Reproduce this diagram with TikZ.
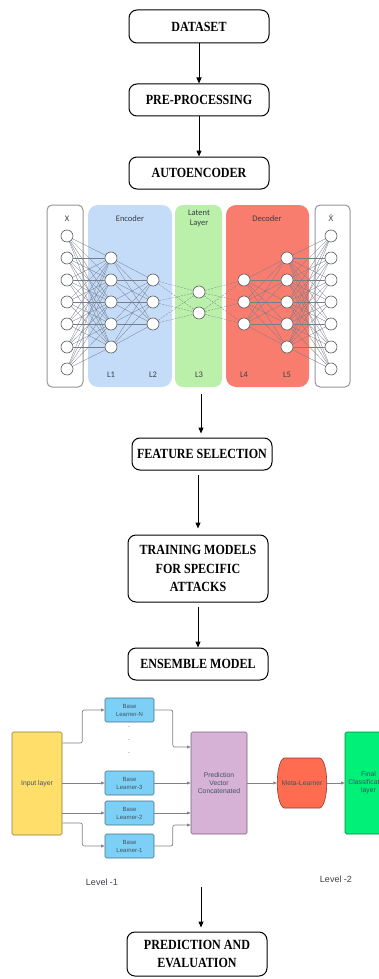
\documentclass[tikz,border=0pt]{standalone}
\usepackage{fontspec}
\setmainfont{Liberation Serif}
\newfontfamily\flowfont[FakeStretch=0.86]{Liberation Serif}
\newfontfamily\netfont{Carlito}
\newfontfamily\accfont{DejaVu Sans}
\newfontfamily\ensfont{Liberation Sans}
\usetikzlibrary{arrows.meta,calc}

\definecolor{encfill}{RGB}{196,220,248}
\definecolor{latfill}{RGB}{186,240,170}
\definecolor{decfill}{RGB}{248,125,110}
\definecolor{panelline}{RGB}{150,150,150}
\definecolor{neuronline}{RGB}{90,90,90}
\definecolor{linkcol}{RGB}{120,125,140}
\definecolor{basefill}{RGB}{125,208,245}
\definecolor{inpfill}{RGB}{255,222,105}
\definecolor{predfill}{RGB}{214,178,214}
\definecolor{metafill}{RGB}{255,108,80}
\definecolor{finfill}{RGB}{0,240,120}
\definecolor{enstext}{RGB}{70,80,100}
\definecolor{enslink}{RGB}{130,130,130}
\definecolor{labtext}{RGB}{60,60,70}

\tikzset{
  flowbox/.style={draw=black, line width=1pt, rounded corners=8pt, minimum width=140pt,
    minimum height=32pt, align=center, inner sep=2pt,
    font=\flowfont\bfseries\fontsize{14}{18.5}\selectfont},
  flowarrow/.style={-{Triangle[length=6pt,width=5pt]}, line width=1pt},
  neuron/.style={circle, draw=neuronline, fill=white, line width=0.6pt, minimum size=12pt, inner sep=0pt},
  link/.style={draw=linkcol, line width=0.3pt},
  dlink/.style={link, dash pattern=on 2pt off 1.2pt},
  nettext/.style={text=labtext, font=\netfont\fontsize{8.5}{10.5}\selectfont, align=center, inner sep=0pt},
  ensbox/.style={draw=#1!55!black, line width=0.6pt, rounded corners=1.5pt, align=center,
    text=enstext, font=\ensfont\fontsize{6.8}{8}\selectfont, inner sep=1pt},
  baselearner/.style={ensbox=basefill, fill=basefill, minimum width=49pt, minimum height=24pt,
    font=\ensfont\fontsize{6}{8}\selectfont},
  enslinkstyle/.style={draw=enslink, line width=0.7pt, rounded corners=2pt,
    -{Triangle[length=3.5pt,width=2.8pt]}},
  leveltext/.style={text=labtext, font=\ensfont\fontsize{9}{10}\selectfont, inner sep=0pt}
}

\begin{document}
\begin{tikzpicture}[x=1pt,y=-1pt]
\useasboundingbox (0,0) rectangle (379,979);
\clip (0,0) rectangle (379,979);

% ---------- upper flow ----------
\node[flowbox, minimum height=33pt] (ds) at (199,26.5) {DATASET};
\node[flowbox] (pre) at (199,100) {PRE-PROCESSING};
\node[flowbox] (ae) at (199,173) {AUTOENCODER};
\draw[flowarrow] (ds) -- (pre);
\draw[flowarrow] (pre) -- (ae);

% ---------- autoencoder network ----------
\draw[draw=panelline, line width=1pt, fill=white, rounded corners=5pt] (47,205) rectangle (83,387);
\fill[encfill, rounded corners=10pt] (88,205) rectangle (172,387);
\fill[latfill, rounded corners=8pt] (175,205) rectangle (222,387);
\fill[decfill, rounded corners=10pt] (226,205) rectangle (309,387);
\draw[draw=panelline, line width=1pt, fill=white, rounded corners=5pt] (315,205) rectangle (350,387);

\node[nettext] (lx) at (67,219) {X};
\node[nettext] (lenc) at (130,219) {Encoder};
\node[nettext] (llat) at (199,218.5) {Latent\\Layer};
\node[nettext] (ldec) at (267,219) {Decoder};
\node[nettext, font=\accfont\fontsize{7.5}{9}\selectfont] (lxh) at (331,218) {X\symbol{"0302}};

\node[nettext] (l1) at (111,375) {L1};
\node[nettext] (l2) at (153,375) {L2};
\node[nettext] (l3) at (199,375) {L3};
\node[nettext] (l4) at (244,375) {L4};
\node[nettext] (l5) at (287,375) {L5};

% neurons
\foreach \k/\y in {1/236,2/258,3/280,4/302,5/324,6/347,7/369} {
  \node[neuron] (x\k) at (67,\y) {};
  \node[neuron] (h\k) at (331,\y) {};
}
\foreach \k/\y in {1/258,2/280,3/302,4/324,5/347} {
  \node[neuron] (a\k) at (111,\y) {};
  \node[neuron] (e\k) at (287,\y) {};
}
\foreach \k/\y in {1/280,2/302,3/324} {
  \node[neuron] (b\k) at (153,\y) {};
  \node[neuron] (d\k) at (244,\y) {};
}
\node[neuron] (c1) at (199,292) {};
\node[neuron] (c2) at (199,313) {};

% full connections between layers
\foreach \i in {1,...,7} \foreach \j in {1,...,5} {
  \draw[link] (x\i) -- (a\j);
  \draw[link] (e\j) -- (h\i);
}
\foreach \i in {1,...,5} \foreach \j in {1,...,3} {
  \draw[link] (a\i) -- (b\j);
  \draw[link] (d\j) -- (e\i);
}
\foreach \i in {1,...,3} \foreach \j in {1,2} {
  \draw[dlink] (b\i) -- (c\j);
  \draw[dlink] (c\j) -- (d\i);
}

% ---------- middle flow ----------
\coordinate (aeout) at (201,394);
\node[flowbox] (fs) at (202,454) {FEATURE SELECTION};
\node[flowbox, minimum height=67pt] (tr) at (198,568.5) {TRAINING MODELS\\FOR SPECIFIC\\ATTACKS};
\node[flowbox] (em) at (198,664) {ENSEMBLE MODEL};
\draw[flowarrow, shorten >=4pt] (aeout) -- (aeout |- fs.north);
\draw[flowarrow, shorten <=4pt, shorten >=6pt] (tr.north |- fs.south) -- (tr.north);
\draw[flowarrow, shorten <=4pt] (tr.south) -- (em.north);

% ---------- ensemble (stacking) diagram ----------
\node[ensbox=inpfill, fill=inpfill, minimum width=50pt, minimum height=103pt] (inp) at (37,783.5) {Input layer};
\node[baselearner] (bln) at (129.5,710) {Base\\Learner-N};
\node[baselearner] (bl3) at (129.5,783) {Base\\Learner-3};
\node[baselearner] (bl2) at (129.5,813) {Base\\Learner-2};
\node[baselearner] (bl1) at (129.5,846) {Base\\Learner-1};
\foreach \k/\y in {1/727,2/740,3/753}
  \node[text=enstext, font=\ensfont\fontsize{7}{8}\selectfont, inner sep=0pt] (dot\k) at (129,\y) {.};
\node[ensbox=predfill, fill=predfill, minimum width=56pt, minimum height=102pt] (pred) at (219,783)
  {Prediction\\Vector\\Concatenated};
\node[minimum width=50pt, minimum height=50pt, inner sep=0pt] (meta) at (302,783) {};
\draw[draw=metafill!55!black, line width=0.6pt, fill=metafill]
  ($(meta.center)+(-18,-25)$) -- ($(meta.center)+(18,-25)$)
  .. controls ($(meta.center)+(27,-21)$) and ($(meta.center)+(27,21)$) .. ($(meta.center)+(18,25)$)
  -- ($(meta.center)+(-18,25)$)
  .. controls ($(meta.center)+(-27,21)$) and ($(meta.center)+(-27,-21)$) .. cycle;
\node[text=enstext, font=\ensfont\fontsize{6.8}{8}\selectfont, inner sep=0pt] (metalab) at (meta.center) {Meta-Learner};
\node[ensbox=finfill, fill=finfill, minimum width=47pt, minimum height=102pt] (fin) at (368.5,783)
  {Final\\Classification\\layer};

\draw[enslinkstyle] ([yshift=40.5pt]inp.east) -- ++(20,0) |- (bln.west);
\draw[enslinkstyle] (inp.east |- bl3.west) -- (bl3.west);
\draw[enslinkstyle] (inp.east |- bl2.west) -- (bl2.west);
\draw[enslinkstyle] ([yshift=-39.5pt]inp.east) -- ++(20,0) |- (bl1.west);
\draw[enslinkstyle] (bln.east) -- ++(18.5,0) |- ([yshift=36pt]pred.west);
\draw[enslinkstyle] (bl3.east) -- (bl3.east -| pred.west);
\draw[enslinkstyle] (bl2.east) -- (bl2.east -| pred.west);
\draw[enslinkstyle] (bl1.east) -- ++(18.5,0) |- ([yshift=-42pt]pred.west);
\draw[enslinkstyle] (pred.east) -- (meta.west);
\draw[enslinkstyle] (meta.east) -- (fin.west);

\node[leveltext] (lev1) at (102,882) {Level -1};
\node[leveltext] (lev2) at (336,879) {Level -2};

% ---------- final step ----------
\coordinate (ensout) at (201,887);
\node[flowbox, minimum height=44pt] (pe) at (197,954) {PREDICTION AND\\EVALUATION};
\draw[flowarrow, shorten >=4pt] (ensout) -- (ensout |- pe.north);
\end{tikzpicture}
\end{document}
